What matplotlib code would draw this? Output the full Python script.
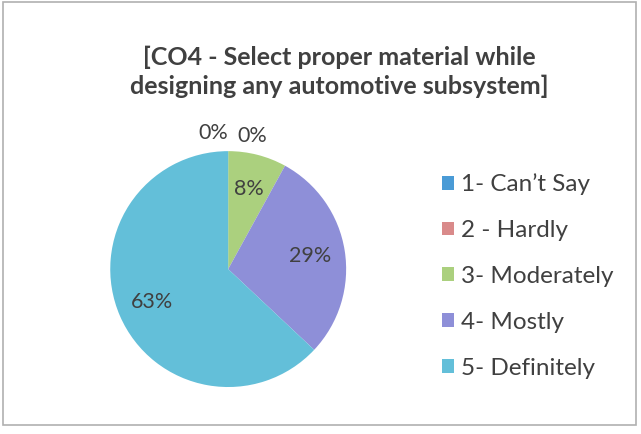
import numpy as np
import matplotlib.pyplot as plt
from matplotlib.patches import Rectangle

# data
categories = ['1- Can\u2019t Say', '2 - Hardly', '3- Moderately', '4- Mostly', '5- Definitely']
percents = [0, 0, 8, 29, 63]
colors = ['#4a9bd6', '#d98a8a', '#abd07e', '#8e8fd8', '#63bfd9']
title = '[CO4 - Select proper material while\ndesigning any automotive subsystem]'

plt.rcParams['font.family'] = ['Lato', 'DejaVu Sans']

fig = plt.figure(figsize=(6.41, 4.34), dpi=100)
fig.patch.set_facecolor('white')

# light frame like the Excel chart area
fig.add_artist(Rectangle((0.004, 0.02), 0.988, 0.975, transform=fig.transFigure,
                         fill=False, edgecolor='#b0b0b0', linewidth=1.2))

ax = fig.add_axes([0.172, 0.108, 0.368, 0.544])
wedges, texts, autotexts = ax.pie(percents, colors=colors, startangle=90, counterclock=False,
                                  autopct=lambda p: '%d%%' % round(p), pctdistance=0.7,
                                  textprops={'fontsize': 15.5, 'color': '#404040'})
ax.set_aspect('equal')
ax.set_xlim(-1, 1)
ax.set_ylim(-1, 1)

# zero-size slices: Excel puts their labels just outside the top of the pie
zero_offsets = [(-0.13, 1.15), (0.20, 1.13)]
k = 0
for t, p in zip(autotexts, percents):
    if p == 0:
        t.set_position(zero_offsets[k])
        t.set_clip_on(False)
        k += 1

fig.text(0.53, 0.834, title, ha='center', va='center', fontsize=18, fontweight='bold',
         color='#404040', linespacing=1.28)

leg = fig.legend(wedges, categories, loc='center left', bbox_to_anchor=(0.655, 0.364),
                 frameon=False, fontsize=17.5, handlelength=0.5, handleheight=0.5,
                 handletextpad=0.3, labelspacing=1.02)
for txt in leg.get_texts():
    txt.set_color('#404040')

plt.savefig('out.png', dpi=100)
